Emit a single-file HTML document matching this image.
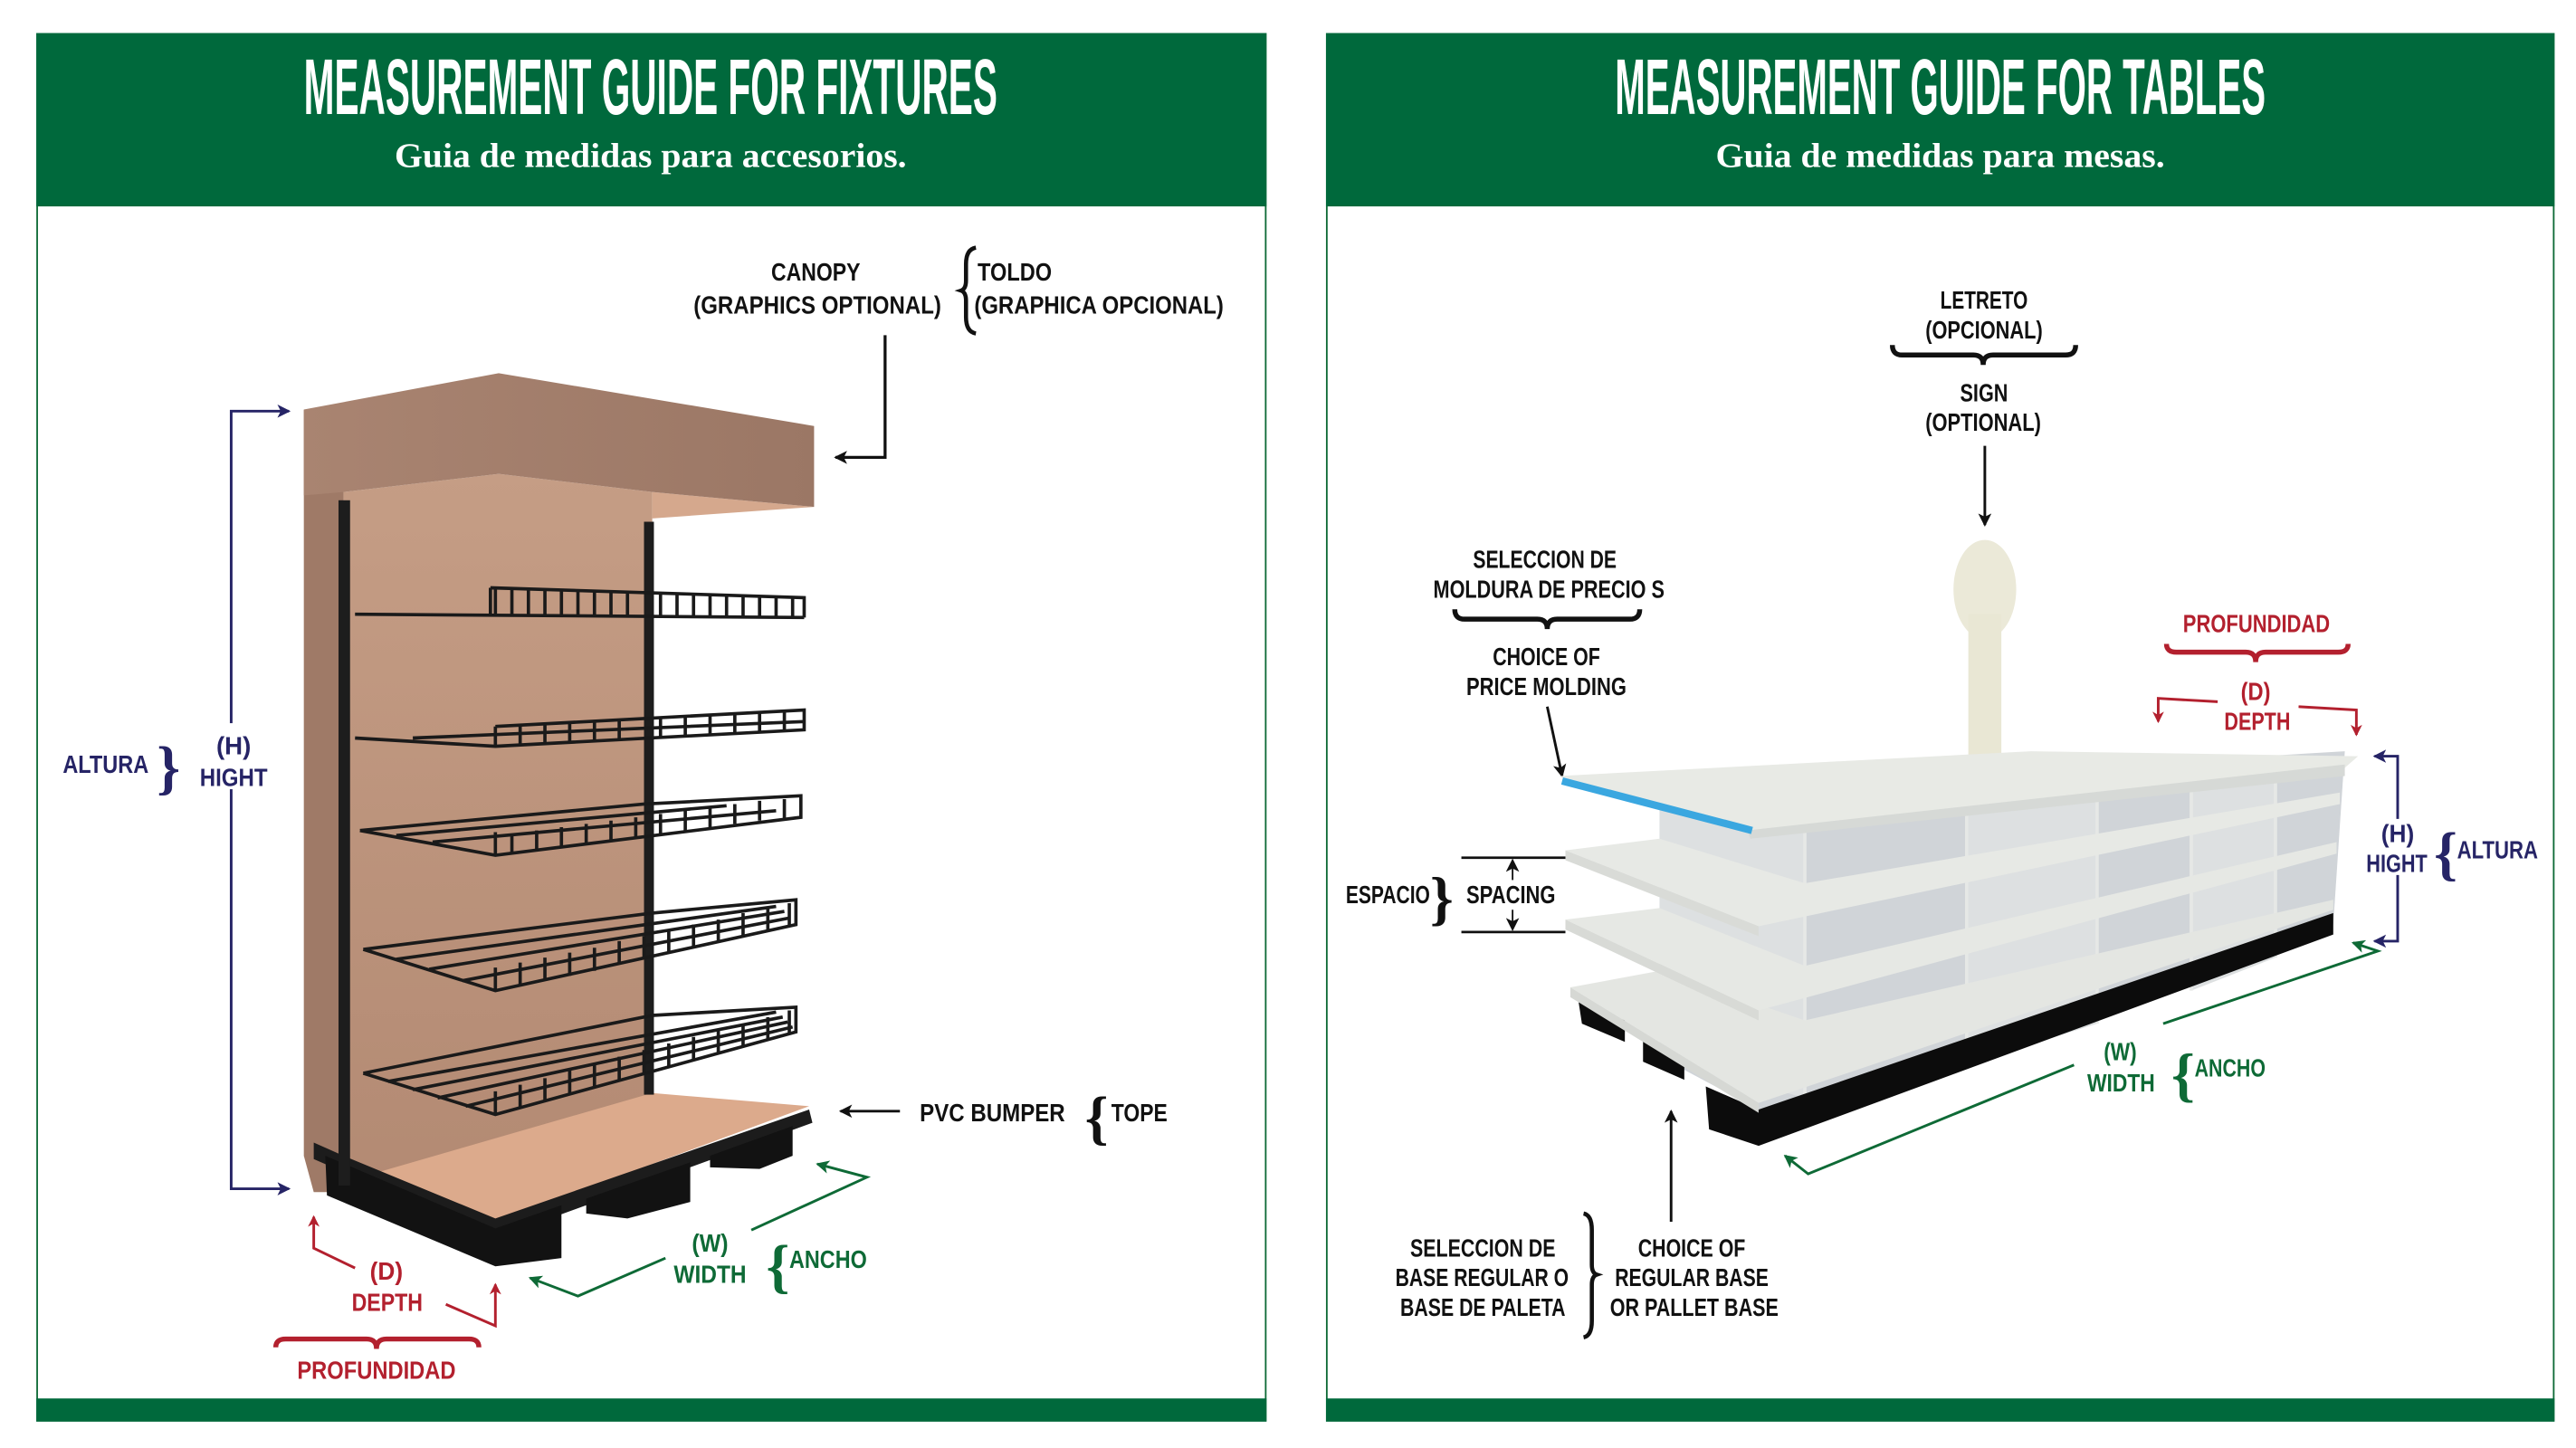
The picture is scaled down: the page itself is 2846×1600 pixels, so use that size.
<!DOCTYPE html>
<html><head><meta charset="utf-8"><style>
html,body{margin:0;padding:0;background:#fff}
svg{display:block}
.t{font-family:"Liberation Sans Narrow","Liberation Sans",sans-serif;font-weight:bold;font-size:15px}
.ttl{font-family:"Liberation Sans Narrow","Liberation Sans",sans-serif;font-weight:bold;font-size:48px;fill:#fff}
.sub{font-family:"Liberation Serif",serif;font-weight:bold;font-size:21px;fill:#fff}
.br{font-family:"Liberation Serif",serif;font-weight:bold;font-size:36px}
.k{fill:#111}.r{fill:#b3202e}.n{fill:#262466}.g{fill:#0e6a36}
</style></head><body>
<svg width="2846" height="1600" viewBox="0 0 1560 877" xmlns="http://www.w3.org/2000/svg">
<defs>
<marker id="ak" markerWidth="8" markerHeight="8" refX="7" refY="4" orient="auto" markerUnits="userSpaceOnUse"><path d="M0,0 L8,4 L0,8 L2,4z" fill="#111"/></marker>
<marker id="an" markerWidth="8" markerHeight="8" refX="7" refY="4" orient="auto" markerUnits="userSpaceOnUse"><path d="M0,0 L8,4 L0,8 L2,4z" fill="#262466"/></marker>
<marker id="ar" markerWidth="7" markerHeight="7" refX="6" refY="3.5" orient="auto" markerUnits="userSpaceOnUse"><path d="M0,0 L7,3.5 L0,7 L2,3.5z" fill="#b3202e"/></marker>
<marker id="ag" markerWidth="8" markerHeight="8" refX="7" refY="4" orient="auto" markerUnits="userSpaceOnUse"><path d="M0,0 L8,4 L0,8 L2,4z" fill="#0e6a36"/></marker>
<linearGradient id="cn" x1="0" y1="0" x2="1" y2="0"><stop offset="0" stop-color="#a98471"/><stop offset="1" stop-color="#9b7765"/></linearGradient>
<linearGradient id="bk" x1="0" y1="0" x2="0" y2="1"><stop offset="0" stop-color="#c59d85"/><stop offset="1" stop-color="#b38a73"/></linearGradient>
</defs>

<!-- LEFT PANEL -->
<rect x="22.5" y="20.5" width="744" height="840" fill="#fff" stroke="#0e6a36" stroke-width="1"/>
<rect x="22" y="20" width="745" height="105" fill="#00693c"/>
<rect x="22" y="847" width="745" height="14" fill="#00693c"/>
<text class="ttl" x="394" y="69" text-anchor="middle" textLength="420" lengthAdjust="spacingAndGlyphs">MEASUREMENT GUIDE FOR FIXTURES</text>
<text class="sub" x="394" y="101" text-anchor="middle" textLength="310" lengthAdjust="spacingAndGlyphs">Guia de medidas para accesorios.</text>

<!-- fixture -->
<polygon points="208,298 302,287 395,298 395,690 208,720" fill="url(#bk)"/>
<polygon points="395,298 493,307 395,314" fill="#d5a88d"/>
<polygon points="184,248 208,298 208,722 190,722 184,700" fill="#9f7a67"/>
<polygon points="184,248 302,226 493,258 493,307 395,298 302,287 208,298 184,300" fill="url(#cn)"/>
<polygon points="208,716 395,662 490,670 300,740" fill="#dcaa8c"/>
<polygon points="190,692 208,700 300,738 490,672 492,680 300,750 190,702" fill="#1c1c1c"/>
<polygon points="197,700 300,744 340,730 340,762 300,767 198,724" fill="#121212"/>
<polygon points="355,726 418,704 418,728 380,738 355,735" fill="#121212"/>
<polygon points="430,700 480,682 480,700 460,708 430,707" fill="#121212"/>
<rect x="205" y="303" width="7" height="415" fill="#1d1d1d"/>
<rect x="390" y="316" width="6" height="347" fill="#1d1d1d"/>
<g stroke="#1a1a1a" stroke-width="2" fill="none">
<path d="M215,372 L487,374 M297,356 L487,362 L487,374 M297,356 L297,372"/>
<path d="M300,357v15M310,357v15M320,357v15M330,357v15M340,358v15M350,358v15M360,358v15M370,359v15M380,359v15M400,359v15M410,360v14M420,360v14M430,360v14M440,361v13M450,361v13M460,361v13M470,362v12M480,362v12"/>
<path d="M215,447 L300,452 L487,442 L487,430 L300,440 M250,447 L487,437"/>
<path d="M300,440v12M315,439v12M330,438v12M345,437v12M360,437v12M375,436v12M400,435v12M415,434v12M430,433v12M445,432v12M460,431v12M475,431v12"/>
<path d="M218,503 L300,518 L485,495 L485,482 L390,487 L218,503 M240,506 L440,488 M262,510 L470,491 M300,518v-14"/>
<path d="M310,517v-12M325,515v-12M340,513v-12M355,511v-12M370,509v-12M385,507v-12M400,505v-12M415,503v-12M430,501v-12M445,499v-12M460,497v-12M475,496v-12"/>
<path d="M220,575 L300,600 L482,560 L482,545 L395,553 L220,575 M240,581 L470,549 M260,587 L475,552 M280,594 L478,556"/>
<path d="M300,600v-14M315,597v-14M330,594v-14M345,591v-14M360,588v-14M375,584v-14M390,581v-14M405,577v-14M420,574v-14M435,571v-14M450,567v-14M465,564v-14M478,561v-14"/>
<path d="M220,650 L300,675 L482,625 L482,610 L395,615 L220,650 M235,655 L470,613 M250,660 L474,616 M265,665 L477,619 M282,670 L480,622"/>
<path d="M300,675v-14M315,671v-14M330,667v-14M345,662v-14M360,658v-14M375,654v-14M390,650v-14M405,646v-14M420,642v-14M435,638v-14M450,634v-14M465,630v-14M478,626v-14"/>
</g>

<!-- labels left -->
<text class="t k" x="467" y="170" textLength="54" lengthAdjust="spacingAndGlyphs">CANOPY</text>
<text class="t k" x="420" y="190" textLength="150" lengthAdjust="spacingAndGlyphs">(GRAPHICS OPTIONAL)</text>
<path d="M591,150 Q585,151 585,160 L585,170 Q585,175 582,176 Q585,177 585,182 L585,192 Q585,201 591,202" stroke="#111" stroke-width="2.5" fill="none"/>
<text class="t k" x="592" y="170" textLength="45" lengthAdjust="spacingAndGlyphs">TOLDO</text>
<text class="t k" x="590" y="190" textLength="151" lengthAdjust="spacingAndGlyphs">(GRAPHICA OPCIONAL)</text>
<path d="M536,203 V277 H506" stroke="#111" stroke-width="1.8" fill="none" marker-end="url(#ak)"/>

<path d="M175,249 H140 V720 H175" stroke="#262466" stroke-width="1.6" fill="none" marker-end="url(#an)"/>
<path d="M140,720 V249 H175" stroke="none" fill="none" marker-end="url(#an)"/>
<rect x="120" y="438" width="44" height="40" fill="#fff"/>
<text class="t n" x="38" y="468" textLength="52" lengthAdjust="spacingAndGlyphs">ALTURA</text>
<text class="br n" x="95" y="477">}</text>
<text class="t n" x="131" y="457" textLength="21" lengthAdjust="spacingAndGlyphs">(H)</text>
<text class="t n" x="121" y="476" textLength="41" lengthAdjust="spacingAndGlyphs">HIGHT</text>

<path d="M215,768 L190,756 V737" stroke="#b3202e" stroke-width="1.6" fill="none" marker-end="url(#ar)"/>
<path d="M270,790 L300,803 V778" stroke="#b3202e" stroke-width="1.6" fill="none" marker-end="url(#ar)"/>
<text class="t r" x="224" y="775" textLength="20" lengthAdjust="spacingAndGlyphs">(D)</text>
<text class="t r" x="213" y="794" textLength="43" lengthAdjust="spacingAndGlyphs">DEPTH</text>
<path d="M167,816 Q167,811 173,811 L222,811 Q228,811 228,817 Q228,811 234,811 L284,811 Q290,811 290,816" stroke="#b3202e" stroke-width="3" fill="none"/>
<text class="t r" x="180" y="835" textLength="96" lengthAdjust="spacingAndGlyphs">PROFUNDIDAD</text>

<path d="M403,762 L350,785 L321,774" stroke="#0e6a36" stroke-width="1.6" fill="none" marker-end="url(#ag)"/>
<path d="M455,745 L525,713 L495,705" stroke="#0e6a36" stroke-width="1.6" fill="none" marker-end="url(#ag)"/>
<text class="t g" x="419" y="758" textLength="22" lengthAdjust="spacingAndGlyphs">(W)</text>
<text class="t g" x="408" y="777" textLength="44" lengthAdjust="spacingAndGlyphs">WIDTH</text>
<text class="br g" x="464" y="779">{</text>
<text class="t g" x="478" y="768" textLength="47" lengthAdjust="spacingAndGlyphs">ANCHO</text>

<path d="M545,673 H509" stroke="#111" stroke-width="1.6" fill="none" marker-end="url(#ak)"/>
<text class="t k" x="557" y="679" textLength="88" lengthAdjust="spacingAndGlyphs">PVC BUMPER</text>
<text class="br k" x="657" y="689">{</text>
<text class="t k" x="673" y="679" textLength="34" lengthAdjust="spacingAndGlyphs">TOPE</text>

<!-- RIGHT PANEL -->
<rect x="803.5" y="20.5" width="743" height="840" fill="#fff" stroke="#0e6a36" stroke-width="1"/>
<rect x="803" y="20" width="744" height="105" fill="#00693c"/>
<rect x="803" y="847" width="744" height="14" fill="#00693c"/>
<text class="ttl" x="1175" y="69" text-anchor="middle" textLength="394" lengthAdjust="spacingAndGlyphs">MEASUREMENT GUIDE FOR TABLES</text>
<text class="sub" x="1175" y="101" text-anchor="middle" textLength="272" lengthAdjust="spacingAndGlyphs">Guia de medidas para mesas.</text>

<text class="t k" x="1175" y="187" textLength="53" lengthAdjust="spacingAndGlyphs">LETRETO</text>
<text class="t k" x="1166" y="205" textLength="71" lengthAdjust="spacingAndGlyphs">(OPCIONAL)</text>
<path d="M1146,209 Q1146,215 1152,215 L1195,215 Q1201,215 1201,221 Q1201,215 1207,215 L1251,215 Q1257,215 1257,209" stroke="#111" stroke-width="3" fill="none"/>
<text class="t k" x="1187" y="243" textLength="29" lengthAdjust="spacingAndGlyphs">SIGN</text>
<text class="t k" x="1166" y="261" textLength="70" lengthAdjust="spacingAndGlyphs">(OPTIONAL)</text>
<path d="M1202,270 V318" stroke="#111" stroke-width="1.6" fill="none" marker-end="url(#ak)"/>

<text class="t k" x="892" y="344" textLength="87" lengthAdjust="spacingAndGlyphs">SELECCION DE</text>
<text class="t k" x="868" y="362" textLength="140" lengthAdjust="spacingAndGlyphs">MOLDURA DE PRECIO S</text>
<path d="M881,369 Q881,375 887,375 L931,375 Q937,375 937,381 Q937,375 943,375 L987,375 Q993,375 993,369" stroke="#111" stroke-width="3" fill="none"/>
<text class="t k" x="904" y="403" textLength="65" lengthAdjust="spacingAndGlyphs">CHOICE OF</text>
<text class="t k" x="888" y="421" textLength="97" lengthAdjust="spacingAndGlyphs">PRICE MOLDING</text>
<path d="M937,428 L946,470" stroke="#111" stroke-width="1.6" fill="none" marker-end="url(#ak)"/>

<!-- table -->
<ellipse cx="1202" cy="357" rx="19" ry="30" fill="#ebe9d8"/>
<rect x="1192" y="372" width="20" height="98" fill="#e9e7d4"/>
<!-- body -->
<polygon points="1005,480 1420,455 1413,560 1065,672 1005,640" fill="#d0d4d8"/>
<g fill="#dde0e1">
<polygon points="1005,490 1093,495 1093,665 1005,640"/>
<polygon points="1191,480 1270,475 1270,620 1191,645"/>
<polygon points="1327,470 1378,465 1378,580 1327,600"/>
</g>
<g stroke="#e6e8e6" stroke-width="2">
<path d="M1093,495V668M1191,480V645M1270,475V620M1327,470V600M1378,465V580"/>
</g>
<!-- base -->
<polygon points="1033,658 1065,672 1413,553 1413,566 1065,694 1035,684" fill="#0c0c0c"/>
<polygon points="956,607 984,618 984,631 958,620" fill="#0c0c0c"/>
<polygon points="995,630 1020,641 1020,654 995,643" fill="#0c0c0c"/>
<!-- shelves -->
<polygon points="951,598 1065,668 1413,551 1413,545 1093,618 1005,588" fill="#e4e6e2"/>
<polygon points="951,598 1065,668 1065,674 951,604" fill="#d6d8d4"/>
<polygon points="948,557 1065,612 1415,517 1415,510 1093,585 1005,550" fill="#e6e8e4"/>
<polygon points="948,557 1065,612 1065,618 948,563" fill="#d8dad6"/>
<polygon points="948,515 1065,561 1417,487 1417,480 1093,535 1005,508" fill="#e7e9e5"/>
<polygon points="948,515 1065,561 1065,567 948,521" fill="#d9dbd7"/>
<polygon points="944,470 1230,455 1428,458 1420,465 1058,503" fill="#e8eae5"/>
<polygon points="1058,503 1420,463 1420,470 1060,508" fill="#d6d9d6"/>
<line x1="946" y1="473" x2="1061" y2="503" stroke="#3aa7e0" stroke-width="4.5"/>

<path d="M885,519.5 H948 M885,564.5 H948" stroke="#111" stroke-width="1.5"/>
<path d="M916,533 V521" stroke="#111" stroke-width="1" marker-end="url(#ak)"/>
<path d="M916,551 V563" stroke="#111" stroke-width="1" marker-end="url(#ak)"/>
<text class="t k" x="815" y="547" textLength="51" lengthAdjust="spacingAndGlyphs">ESPACIO</text>
<text class="br k" x="866" y="556">}</text>
<text class="t k" x="888" y="547" textLength="54" lengthAdjust="spacingAndGlyphs">SPACING</text>

<path d="M1452,496 V458 H1438" stroke="#262466" stroke-width="1.6" fill="none" marker-end="url(#an)"/>
<path d="M1452,530 V570 H1438" stroke="#262466" stroke-width="1.6" fill="none" marker-end="url(#an)"/>
<text class="t n" x="1442" y="510" textLength="20" lengthAdjust="spacingAndGlyphs">(H)</text>
<text class="t n" x="1433" y="528" textLength="37" lengthAdjust="spacingAndGlyphs">HIGHT</text>
<text class="br n" x="1474" y="529">{</text>
<text class="t n" x="1488" y="520" textLength="49" lengthAdjust="spacingAndGlyphs">ALTURA</text>

<text class="t r" x="1322" y="383" textLength="89" lengthAdjust="spacingAndGlyphs">PROFUNDIDAD</text>
<path d="M1312,390 Q1312,395 1318,395 L1360,395 Q1366,395 1366,401 Q1366,395 1372,395 L1416,395 Q1422,395 1422,390" stroke="#b3202e" stroke-width="3" fill="none"/>
<text class="t r" x="1357" y="424" textLength="18" lengthAdjust="spacingAndGlyphs">(D)</text>
<text class="t r" x="1347" y="442" textLength="40" lengthAdjust="spacingAndGlyphs">DEPTH</text>
<path d="M1343,425 L1307,423 V437" stroke="#b3202e" stroke-width="1.6" fill="none" marker-end="url(#ar)"/>
<path d="M1392,428 L1427,430 V445" stroke="#b3202e" stroke-width="1.6" fill="none" marker-end="url(#ar)"/>

<path d="M1256,645 L1095,711 L1081,700" stroke="#0e6a36" stroke-width="1.6" fill="none" marker-end="url(#ag)"/>
<path d="M1310,620 L1440,576 L1425,571" stroke="#0e6a36" stroke-width="1.6" fill="none" marker-end="url(#ag)"/>
<text class="t g" x="1274" y="642" textLength="20" lengthAdjust="spacingAndGlyphs">(W)</text>
<text class="t g" x="1264" y="661" textLength="41" lengthAdjust="spacingAndGlyphs">WIDTH</text>
<text class="br g" x="1315" y="663">{</text>
<text class="t g" x="1329" y="652" textLength="43" lengthAdjust="spacingAndGlyphs">ANCHO</text>

<path d="M1012,740 V673" stroke="#111" stroke-width="1.6" fill="none" marker-end="url(#ak)"/>
<text class="t k" x="854" y="761" textLength="88" lengthAdjust="spacingAndGlyphs">SELECCION DE</text>
<text class="t k" x="845" y="779" textLength="105" lengthAdjust="spacingAndGlyphs">BASE REGULAR O</text>
<text class="t k" x="848" y="797" textLength="100" lengthAdjust="spacingAndGlyphs">BASE DE PALETA</text>
<path d="M959,735 Q964,736 964,745 L964,766 Q964,771 967,772 Q964,773 964,778 L964,800 Q964,809 959,810" stroke="#111" stroke-width="2.5" fill="none"/>
<text class="t k" x="992" y="761" textLength="65" lengthAdjust="spacingAndGlyphs">CHOICE OF</text>
<text class="t k" x="978" y="779" textLength="93" lengthAdjust="spacingAndGlyphs">REGULAR BASE</text>
<text class="t k" x="975" y="797" textLength="102" lengthAdjust="spacingAndGlyphs">OR PALLET BASE</text>
</svg>
</body></html>
